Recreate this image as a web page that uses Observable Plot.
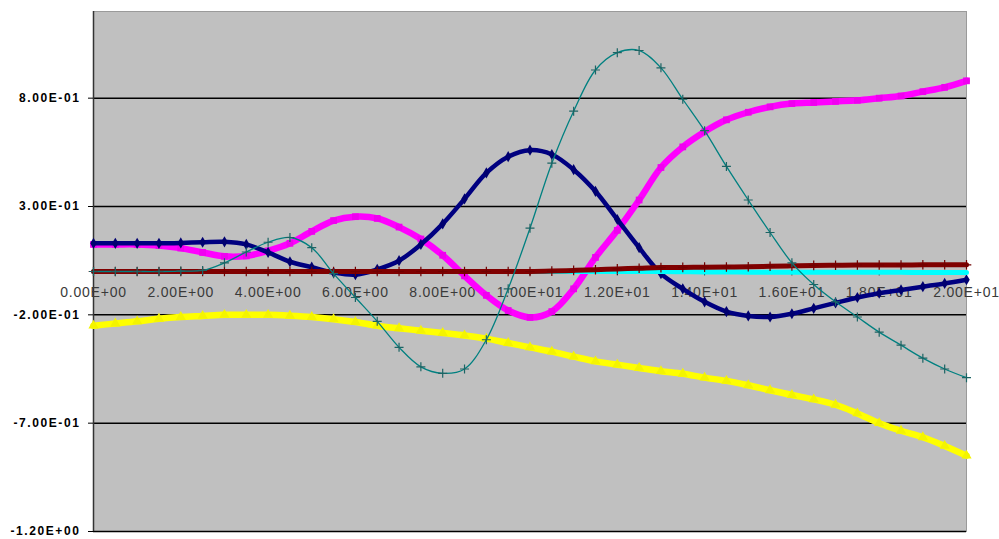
<!DOCTYPE html>
<html><head><meta charset="utf-8">
<script src="https://cdn.jsdelivr.net/npm/d3@7"></script>
<script src="https://cdn.jsdelivr.net/npm/@observablehq/plot@0.6"></script>
<style>body{margin:0;background:#fff}</style>
</head><body><div id="chart"></div>
<script>
const xs = [0,0.5,1,1.5,2,2.5,3,3.5,4,4.5,5,5.5,6,6.5,7,7.5,8,8.5,9,9.5,10,10.5,11,11.5,12,12.5,13,13.5,14,14.5,15,15.5,16,16.5,17,17.5,18,18.5,19,19.5,20];
const navy = [0.13,0.13,0.13,0.13,0.132,0.135,0.137,0.125,0.088,0.045,0.02,-0.005,-0.015,0.01,0.05,0.125,0.22,0.335,0.455,0.53,0.56,0.54,0.47,0.37,0.24,0.11,-0.01,-0.08,-0.14,-0.185,-0.205,-0.21,-0.195,-0.17,-0.145,-0.12,-0.1,-0.085,-0.07,-0.055,-0.038];
const magenta = [0.125,0.125,0.125,0.12,0.108,0.088,0.07,0.072,0.095,0.13,0.185,0.235,0.253,0.245,0.205,0.15,0.075,-0.02,-0.11,-0.18,-0.212,-0.185,-0.08,0.065,0.19,0.33,0.48,0.575,0.645,0.7,0.735,0.76,0.775,0.78,0.785,0.79,0.8,0.81,0.83,0.85,0.88];
const teal = [0,0,0,0,0.002,0.005,0.04,0.09,0.135,0.157,0.11,-0.01,-0.12,-0.23,-0.35,-0.44,-0.47,-0.45,-0.315,-0.08,0.2,0.5,0.74,0.93,1.01,1.02,0.94,0.795,0.65,0.485,0.33,0.18,0.04,-0.06,-0.14,-0.21,-0.28,-0.34,-0.4,-0.45,-0.49];
const yellow = [-0.25,-0.24,-0.23,-0.218,-0.21,-0.205,-0.2,-0.2,-0.2,-0.204,-0.21,-0.22,-0.233,-0.25,-0.262,-0.273,-0.284,-0.295,-0.31,-0.33,-0.35,-0.37,-0.393,-0.415,-0.43,-0.445,-0.46,-0.472,-0.49,-0.505,-0.525,-0.548,-0.57,-0.59,-0.615,-0.655,-0.7,-0.735,-0.765,-0.805,-0.85];
const darkred = [0,0,0,0,0,0,0,0,0,0,0,0,0,0,0,0,0,0,0,0,0,0.002,0.005,0.008,0.012,0.015,0.018,0.019,0.02,0.021,0.022,0.024,0.026,0.028,0.029,0.03,0.03,0.03,0.031,0.031,0.031];
const cyan = [0,0,0,0,0,0,0,0,0,0,0,0,0,0,0,0,0,0,0,0,0,0,0,0,0,0,0,-0.001,-0.002,-0.002,-0.003,-0.003,-0.003,-0.004,-0.004,-0.004,-0.004,-0.004,-0.005,-0.005,-0.005];
const yTicks = [-1.2,-0.7,-0.2,0.3,0.8];
const xTicks = [0,2,4,6,8,10,12,14,16,18,20];

function sci(v){
  const [m,e] = v.toExponential(2).split("e");
  const n = Math.abs(+e);
  return m + "E" + (+e < 0 ? "-" : "+") + String(n).padStart(2,"0");
}
const rows = ys => xs.map((x,i) => ({x, y: ys[i]}));
const curve = "catmull-rom";

const svg = Plot.plot({
  width: 999, height: 539,
  marginLeft: 93, marginRight: 33, marginTop: 11, marginBottom: 8,
  style: {fontFamily: "'Liberation Sans', Arial, sans-serif", background: "#fff", overflow: "visible"},
  x: {domain: [0, 20], axis: null},
  y: {domain: [-1.2, 1.2], label: null},
  marks: [
    Plot.frame({fill: "#c0c0c0", stroke: "#9a9a9a"}),
    Plot.ruleY(yTicks, {stroke: "#000", strokeWidth: 1.5}),
    Plot.ruleX([0], {stroke: "#333", strokeWidth: 1.5}),
    Plot.axisY(yTicks, {tickFormat: sci, tickSize: 5, tickPadding: 8, fontSize: 12, fontWeight: "bold", fill: "#000", stroke: "#000", label: null}),
    Plot.ruleY([0], {stroke: "#000", strokeWidth: 1}),
    Plot.ruleX(xTicks, {x: d => d, y1: 0, y2: -0.02, stroke: "#000"}),
    Plot.text(xTicks, {x: d => d, y: 0, dy: 21, text: d => sci(d), fontSize: 14, fill: "#3a3a3a"}),
    Plot.line(rows(yellow), {x: "x", y: "y", stroke: "#ffff00", strokeWidth: 6.5, curve}),
    Plot.dot(rows(yellow), {x: "x", y: "y", symbol: "triangle", r: 3.8, fill: "#f4f400"}),
    Plot.line(rows(magenta), {x: "x", y: "y", stroke: "#ff00ff", strokeWidth: 6.5, curve}),
    Plot.dot(rows(magenta), {x: "x", y: "y", symbol: "square", r: 3.8, fill: "#f000f0"}),
    Plot.line(rows(navy), {x: "x", y: "y", stroke: "#000080", strokeWidth: 4.5, curve}),
    Plot.dot(rows(navy), {x: "x", y: "y", symbol: "diamond", r: 3.4, fill: "#000070"}),
    Plot.line(rows(cyan), {x: "x", y: "y", stroke: "#00ffff", strokeWidth: 5, curve}),
    Plot.line(rows(darkred), {x: "x", y: "y", stroke: "#800000", strokeWidth: 5, curve}),
    Plot.dot(rows(darkred), {x: "x", y: "y", symbol: "plus", r: 3.2, stroke: "#700000", strokeWidth: 1.2}),
    Plot.line(rows(teal), {x: "x", y: "y", stroke: "#008080", strokeWidth: 1.3, curve}),
    Plot.dot(rows(teal), {x: "x", y: "y", symbol: "plus", r: 3, stroke: "#1c6464", strokeWidth: 1.2})
  ]
});
d3.select(svg).selectAll('g[aria-label="y-axis tick label"] text').style("letter-spacing", "1.6px");
d3.select(svg).selectAll('g[aria-label="text"] text').style("letter-spacing", "0.8px");
document.getElementById("chart").appendChild(svg);
</script>
</body></html>
